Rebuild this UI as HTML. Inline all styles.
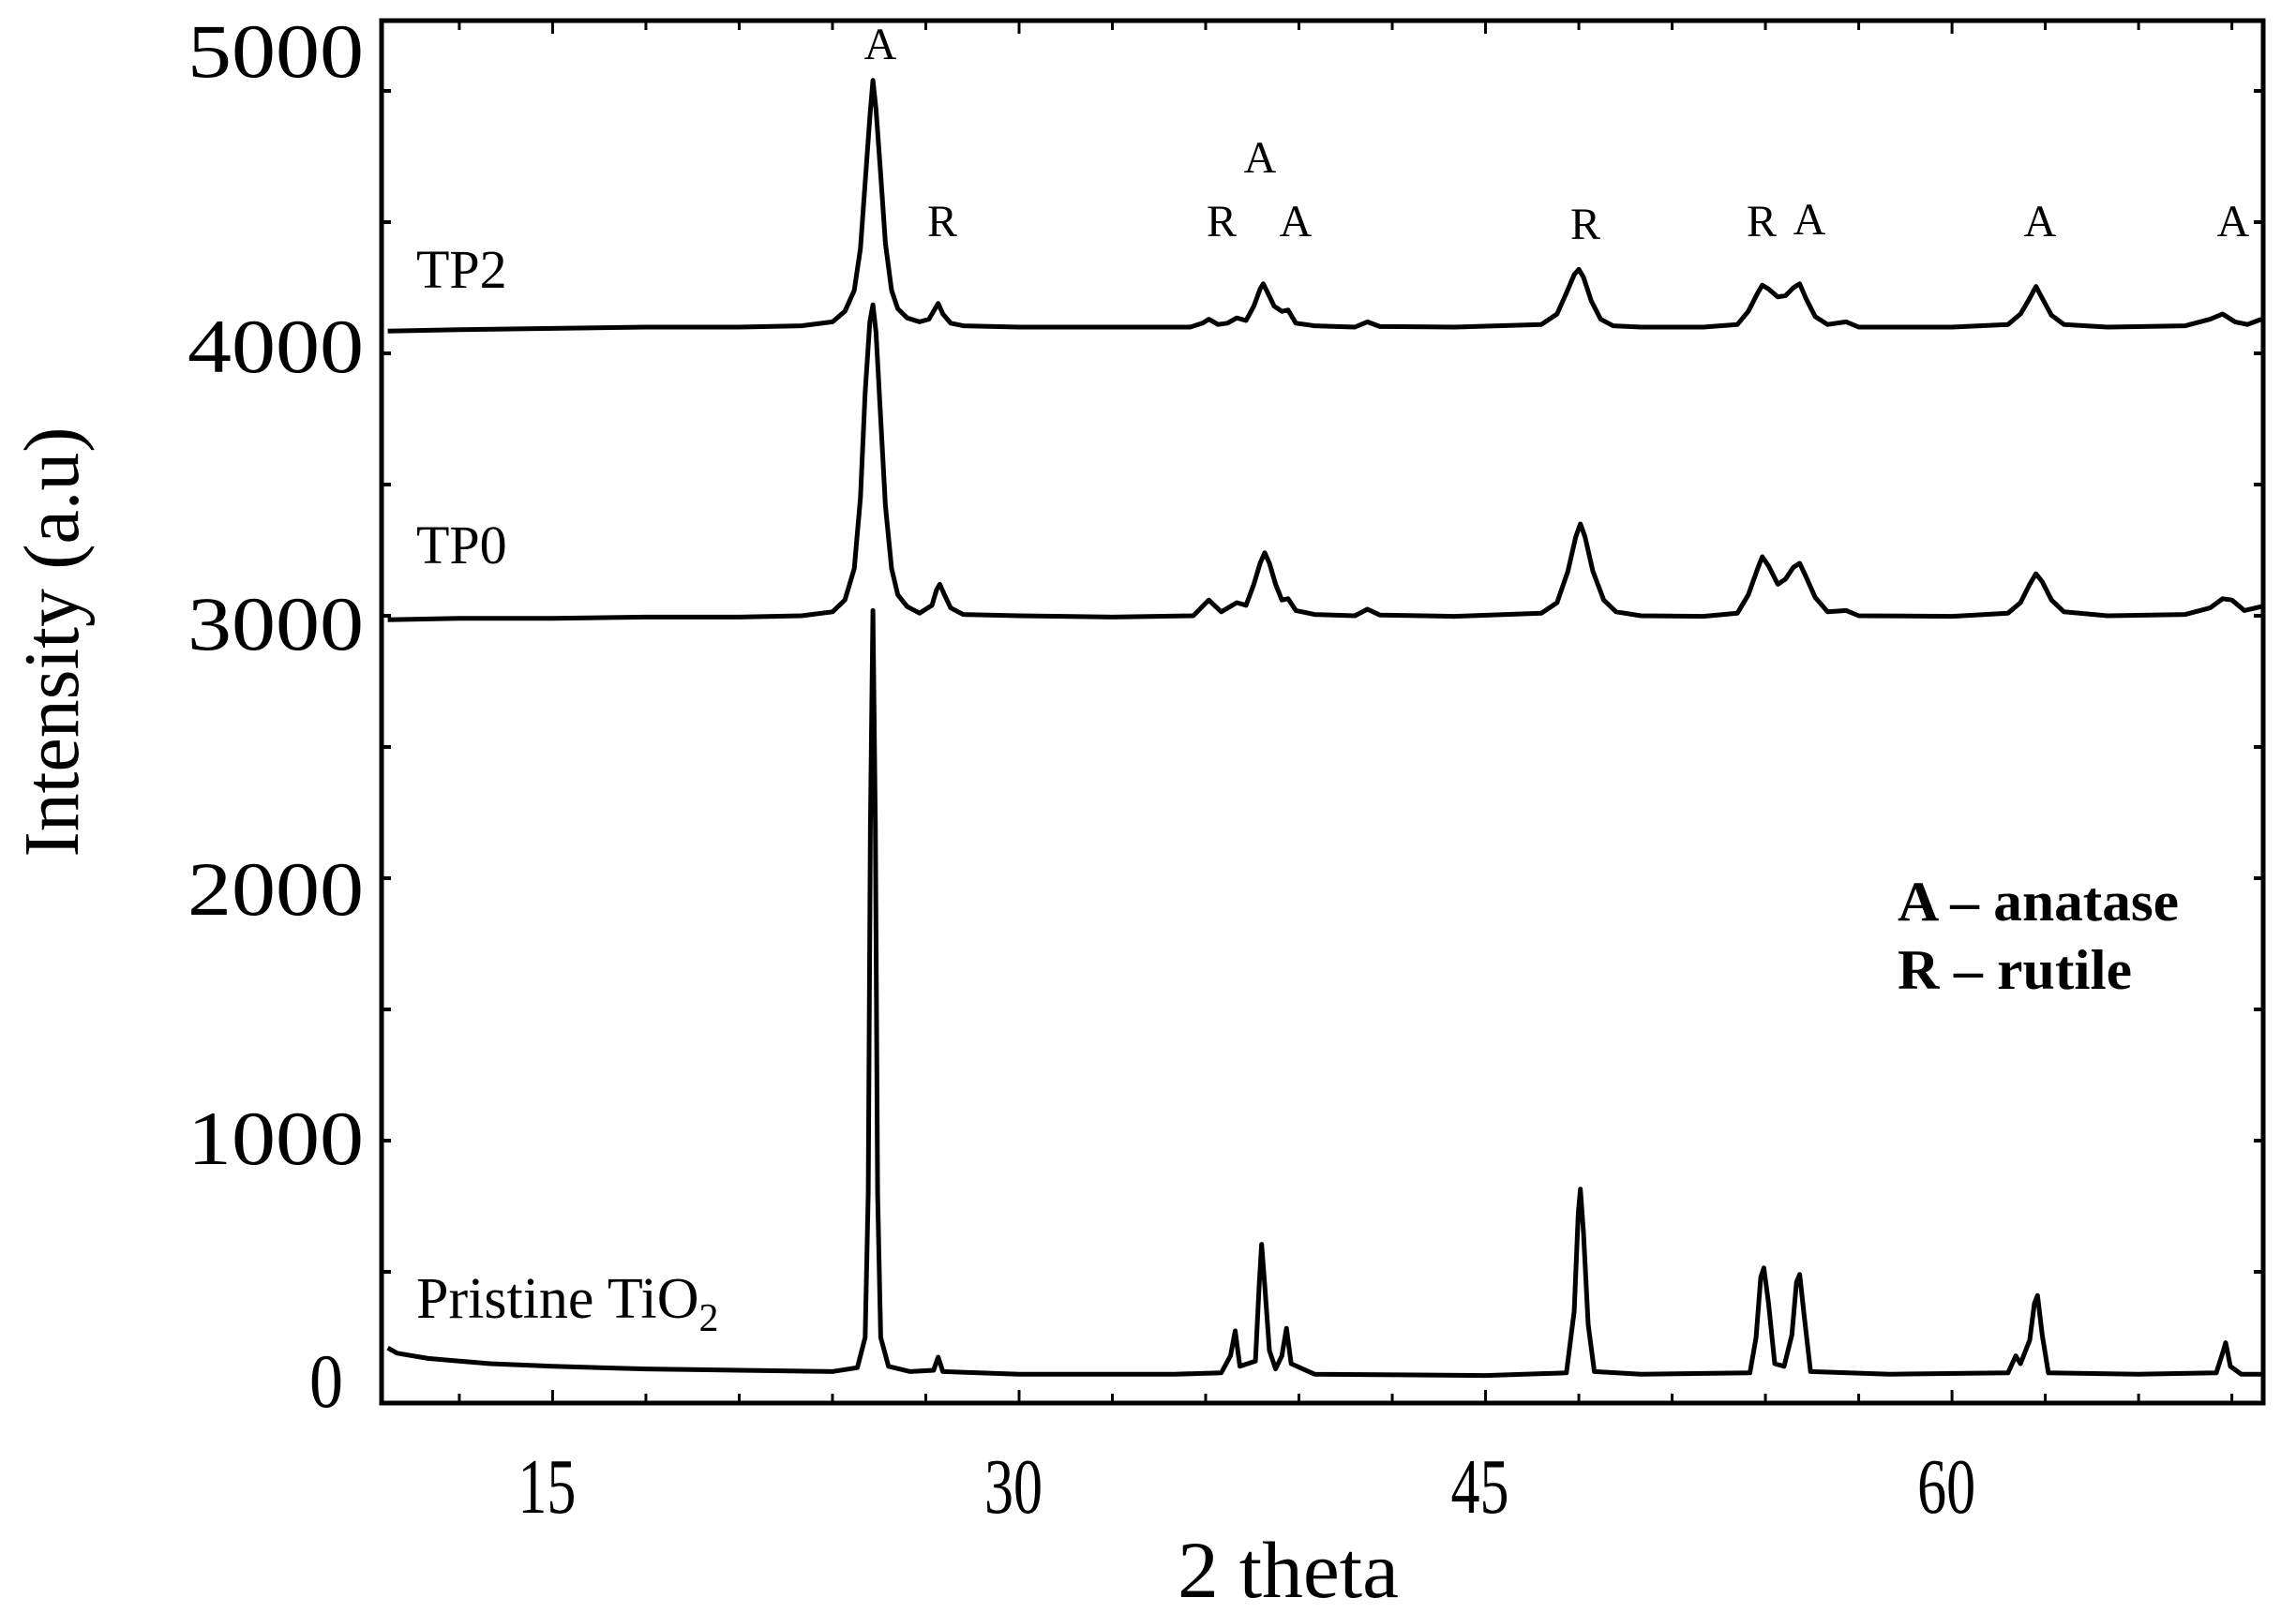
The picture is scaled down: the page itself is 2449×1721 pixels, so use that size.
<!DOCTYPE html>
<html>
<head>
<meta charset="utf-8">
<style>
html,body{margin:0;padding:0;background:#fff;}
svg{display:block;}
text{font-family:"Liberation Serif",serif;fill:#000;}
</style>
</head>
<body>
<svg id="chart" width="2449" height="1721" viewBox="0 0 2449 1721" xmlns="http://www.w3.org/2000/svg">
  <g id="ticks"></g>
  <g id="traces"></g>
  <rect x="407" y="22" width="2007" height="1475" fill="none" stroke="#000" stroke-width="5"/>

  <g font-size="82" text-anchor="end">
    <text x="388" y="82" textLength="188" lengthAdjust="spacingAndGlyphs">5000</text>
    <text x="388" y="397" textLength="188" lengthAdjust="spacingAndGlyphs">4000</text>
    <text x="388" y="693" textLength="188" lengthAdjust="spacingAndGlyphs">3000</text>
    <text x="388" y="976" textLength="188" lengthAdjust="spacingAndGlyphs">2000</text>
    <text x="388" y="1242" textLength="188" lengthAdjust="spacingAndGlyphs">1000</text>
    <text x="366" y="1501" textLength="36" lengthAdjust="spacingAndGlyphs">0</text>
  </g>
  <g id="xlabels" font-size="84" text-anchor="middle"></g>
  <text x="1374" y="1704" font-size="86" text-anchor="middle" textLength="236" lengthAdjust="spacingAndGlyphs">2 theta</text>
  <text x="0" y="0" font-size="84" text-anchor="middle" transform="translate(83,685) rotate(-90)" textLength="459" lengthAdjust="spacingAndGlyphs">Intensity (a.u)</text>

  <g font-size="58">
    <text x="444" y="307">TP2</text>
    <text x="444" y="601">TP0</text>
    <text x="444" y="1406" font-size="62">Pristine TiO<tspan font-size="42" dy="14">2</tspan></text>
  </g>

  <g font-size="48" text-anchor="middle">
    <text x="939" y="63">A</text>
    <text x="1005" y="252">R</text>
    <text x="1303" y="252">R</text>
    <text x="1344" y="184">A</text>
    <text x="1382" y="252">A</text>
    <text x="1691" y="255">R</text>
    <text x="1879" y="252">R</text>
    <text x="1930" y="250">A</text>
    <text x="2176" y="252">A</text>
    <text x="2382" y="252">A</text>
  </g>

  <g font-size="60" font-weight="bold">
    <text x="2024" y="982" textLength="300" lengthAdjust="spacingAndGlyphs">A – anatase</text>
    <text x="2024" y="1055" textLength="250" lengthAdjust="spacingAndGlyphs">R – rutile</text>
  </g>
</svg>
<script>
const xTickValues = [12,15,18,21,24,27,30,33,36,39,42,45,48,51,54,57,60,63,66,69];
const xTickLabels = ["15","30","45","60"];
const yTickValues = [500,1000,1500,2000,2500,3000,3500,4000,4500,5000];

const tp2X = [9.7,12,15,18,21,23,24.0,24.4,24.7,24.9,25.05,25.2,25.3,25.4,25.55,25.7,25.9,26.1,26.4,26.8,27.1,27.3,27.4,27.55,27.8,28.2,30,33,35.5,35.9,36.1,36.4,36.7,37.0,37.3,37.55,37.75,37.85,38.0,38.2,38.45,38.65,38.9,39.5,40.8,41.2,41.6,44,46.8,47.3,47.6,47.85,48.0,48.15,48.4,48.7,49.1,50,52,53.1,53.45,53.75,53.9,54.1,54.4,54.65,54.9,55.1,55.3,55.6,56.0,56.6,57,60,61.8,62.2,62.5,62.7,62.9,63.2,63.6,65,67.5,68.3,68.7,69.1,69.5,69.95];
const tp2Y = [4085,4090,4095,4100,4100,4105,4120,4160,4240,4400,4650,4900,5040,4930,4680,4420,4240,4170,4135,4120,4130,4170,4190,4150,4115,4105,4100,4100,4100,4115,4130,4110,4115,4135,4125,4180,4245,4265,4230,4180,4160,4165,4115,4105,4100,4120,4102,4100,4110,4150,4230,4300,4320,4290,4200,4130,4105,4100,4100,4110,4160,4230,4260,4245,4215,4220,4250,4265,4210,4140,4110,4120,4100,4100,4110,4150,4210,4255,4210,4145,4110,4100,4105,4130,4150,4120,4110,4130];

const tp0X = [9.7,12,15,18,21,23,24.0,24.4,24.7,24.9,25.05,25.2,25.3,25.4,25.55,25.7,25.9,26.1,26.4,26.8,27.2,27.35,27.45,27.6,27.8,28.2,30,33,35.6,36.1,36.5,37.0,37.3,37.55,37.75,37.9,38.05,38.25,38.45,38.65,38.9,39.5,40.8,41.2,41.6,44,46.8,47.3,47.65,47.9,48.05,48.2,48.45,48.8,49.2,50,52,53.1,53.45,53.75,53.9,54.1,54.4,54.65,54.9,55.1,55.3,55.6,56.0,56.6,57,60,61.8,62.2,62.5,62.7,62.9,63.2,63.6,65,67.5,68.3,68.7,69.0,69.4,69.95];
const tp0Y = [2985,2990,2990,2995,2995,3000,3015,3060,3180,3450,3850,4120,4185,4080,3750,3420,3180,3080,3035,3010,3040,3100,3120,3080,3030,3005,3000,2995,3000,3060,3015,3050,3040,3120,3200,3240,3200,3120,3060,3065,3020,3005,3000,3025,3003,2998,3010,3050,3170,3300,3350,3300,3170,3060,3015,3000,2998,3010,3080,3180,3225,3190,3120,3140,3185,3200,3150,3070,3015,3020,3000,2998,3010,3050,3120,3160,3130,3060,3015,3000,3005,3030,3065,3060,3020,3035];

const pristineX = [9.7,10,11,12,13,15,18,21,24,24.8,25.05,25.15,25.22,25.3,25.38,25.45,25.55,25.8,26.5,27.25,27.4,27.55,30,35,36.5,36.8,36.95,37.1,37.6,37.72,37.8,37.9,38.05,38.25,38.45,38.6,38.75,39.5,45,47.6,47.85,47.98,48.05,48.15,48.3,48.5,50,53.5,53.7,53.85,53.95,54.1,54.3,54.6,54.85,55.0,55.1,55.25,55.45,58,61.8,62.05,62.2,62.5,62.65,62.75,62.9,63.1,66,68.5,68.7,68.8,68.95,69.3,69.95];
const pristineY = [210,190,170,160,150,140,130,125,120,135,250,800,2200,3020,2200,800,250,140,120,125,175,120,110,110,115,180,275,140,160,450,605,450,200,130,180,285,150,110,105,115,350,720,815,650,300,120,110,115,250,480,515,380,150,140,260,460,490,330,120,110,115,180,150,240,380,410,260,115,110,115,190,230,140,110,110];

const X0 = 407, X1 = 2414, XMIN = 9.5, PXDEG = 33.17;
const Y0 = 1497, PXUNIT = 0.28, YTOP = 22;
function xs(v){ return X0 + (v - XMIN) * PXDEG; }
function ys(v){ return Y0 - v * PXUNIT; }

const NS = "http://www.w3.org/2000/svg";
const tickG = document.getElementById('ticks');
xTickValues.forEach(v => {
  const x = xs(v);
  const major = xTickLabels.indexOf(String(v)) >= 0;
  const len = major ? 14 : 10;
  const b = document.createElementNS(NS, 'line');
  
  
  b.setAttribute('x1', x); b.setAttribute('x2', x);
  b.setAttribute('y1', Y0); b.setAttribute('y2', Y0 - len);
  b.setAttribute('stroke', '#000'); b.setAttribute('stroke-width', '3');
  tickG.appendChild(b);
  const t = document.createElementNS(NS, 'line');
  
  
  t.setAttribute('x1', x); t.setAttribute('x2', x);
  t.setAttribute('y1', YTOP); t.setAttribute('y2', YTOP + len);
  t.setAttribute('stroke', '#000'); t.setAttribute('stroke-width', '3');
  tickG.appendChild(t);
});
yTickValues.forEach(v => {
  const y = ys(v);
  const l = document.createElementNS(NS, 'line');
  
  
  l.setAttribute('x1', X0); l.setAttribute('x2', X0 + 10);
  l.setAttribute('y1', y); l.setAttribute('y2', y);
  l.setAttribute('stroke', '#000'); l.setAttribute('stroke-width', '4');
  tickG.appendChild(l);
  const r = document.createElementNS(NS, 'line');
  
  
  r.setAttribute('x1', X1); r.setAttribute('x2', X1 - 10);
  r.setAttribute('y1', y); r.setAttribute('y2', y);
  r.setAttribute('stroke', '#000'); r.setAttribute('stroke-width', '4');
  tickG.appendChild(r);
});

const xl = document.getElementById('xlabels');
xTickLabels.forEach(s => {
  const t = document.createElementNS(NS, 'text');
  
  
  t.setAttribute('x', xs(Number(s)) - 6);
  t.setAttribute('y', 1614);
  t.setAttribute('textLength', '62');
  t.setAttribute('lengthAdjust', 'spacingAndGlyphs');
  t.textContent = s;
  xl.appendChild(t);
});

const tr = document.getElementById('traces');
function drawSeries(xsArr, ysArr, name){
  const pts = xsArr.map((v, i) => xs(v).toFixed(1) + ',' + ys(ysArr[i]).toFixed(1)).join(' ');
  const p = document.createElementNS(NS, 'polyline');
  
  
  p.setAttribute('points', pts);
  p.setAttribute('fill', 'none');
  p.setAttribute('stroke', '#000');
  p.setAttribute('stroke-width', '5');
  p.setAttribute('stroke-linejoin', 'round');
  tr.appendChild(p);
}
drawSeries(tp2X, tp2Y, 'series-tp2');
drawSeries(tp0X, tp0Y, 'series-tp0');
drawSeries(pristineX, pristineY, 'series-pristine');
</script>
</body>
</html>
